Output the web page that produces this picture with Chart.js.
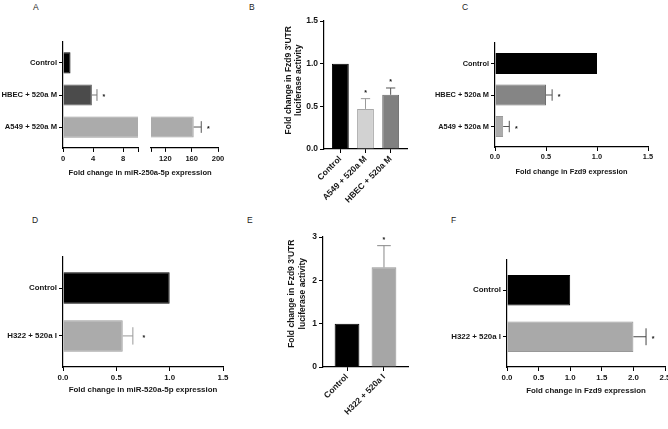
<!DOCTYPE html>
<html lang="en">
<head>
  <meta charset="UTF-8">
  <title>miR-520a / Fzd9 panels</title>
  <script src="https://cdn.jsdelivr.net/npm/chart.js"></script>
  <style>
    html, body { margin: 0; padding: 0; background: #fff; overflow: hidden; }
    body { width: 668px; height: 429px; position: relative; font-family: 'Liberation Sans', Arial, sans-serif; }
    canvas { position: absolute; }
    .tag { position: absolute; font-size: 8.5px; line-height: 10px; color: #222; }
  </style>
</head>
<body>
  <div class="tag" style="left:33px;top:2px">A</div>
  <div class="tag" style="left:249px;top:2px">B</div>
  <div class="tag" style="left:462px;top:2px">C</div>
  <div class="tag" style="left:32px;top:215px">D</div>
  <div class="tag" style="left:247px;top:215px">E</div>
  <div class="tag" style="left:451px;top:215px">F</div>

  <canvas id="chartA1" width="240" height="185" style="left:0;top:0"></canvas>
  <canvas id="chartA2" width="240" height="185" style="left:0;top:0"></canvas>
  <canvas id="chartB" width="180" height="210" style="left:240px;top:0"></canvas>
  <canvas id="chartC" width="248" height="185" style="left:420px;top:0"></canvas>
  <canvas id="chartD" width="240" height="210" style="left:0;top:200px"></canvas>
  <canvas id="chartE" width="180" height="229" style="left:240px;top:200px"></canvas>
  <canvas id="chartF" width="260" height="210" style="left:420px;top:200px"></canvas>

  <script>
    // A: miR-250a-5p (broken axis)
    const catsA = ['Control', 'HBEC + 520a M', 'A549 + 520a M'];
    const meanA = [1, 3.85, 163];
    const sdA = [0, 0.68, 11.5];
    const sigA = ['', '*', '*'];
    const ticksA = [0, 4, 8, 120, 160, 200];

    // B: luciferase
    const catsB = ['Control', 'A549 + 520a M', 'HBEC + 520a M'];
    const meanB = [1, 0.47, 0.635];
    const sdB = [0, 0.12, 0.08];
    const sigB = ['', '*', '*'];
    const ticksB = [0, 0.5, 1, 1.5];

    // C: Fzd9
    const catsC = ['Control', 'HBEC + 520a M', 'A549 + 520a M'];
    const meanC = [1, 0.5, 0.08];
    const sdC = [0, 0.06, 0.06];
    const sigC = ['', '*', '*'];
    const ticksC = [0, 0.5, 1, 1.5];

    // D: miR-520a-5p
    const catsD = ['Control', 'H322 + 520a I'];
    const meanD = [1, 0.56];
    const sdD = [0, 0.095];
    const sigD = ['', '*'];
    const ticksD = [0, 0.5, 1, 1.5];

    // E: luciferase
    const catsE = ['Control', 'H322 + 520a I'];
    const meanE = [1, 2.3];
    const sdE = [0, 0.5];
    const sigE = ['', '*'];
    const ticksE = [0, 1, 2, 3];

    // F: Fzd9
    const catsF = ['Control', 'H322 + 520a I'];
    const meanF = [1, 2.0];
    const sdF = [0, 0.2];
    const sigF = ['', '*'];
    const ticksF = [0, 0.5, 1, 1.5, 2, 2.5];

    const FONT = '"Liberation Sans", Arial, sans-serif';
    const INK = '#161616';
    const catGap = 0.65; // gap between axis end and outer bar, in category widths

    // prism-style spacing: push the outer bars away from the axis ends
    const catPad = {
      id: 'catPad',
      afterLayout(chart) {
        Object.values(chart.scales).forEach(s => {
          if (s.type !== 'category') return;
          s._startValue = s.min - catGap;
          s._valueRange = s.max - s.min + 2 * catGap;
        });
      }
    };

    // one-sided error bars + significance stars
    function errPlugin(sd, sig, colors, starGap) {
      return {
        id: 'errBars',
        afterDatasetsDraw(chart) {
          const ctx = chart.ctx;
          const horiz = chart.options.indexAxis === 'y';
          const vs = horiz ? chart.scales.x : chart.scales.y;
          const vals = chart.data.datasets[0].data;
          ctx.save();
          chart.getDatasetMeta(0).data.forEach((bar, i) => {
            const hi = vals[i] + sd[i];
            if (!sd[i] || vals[i] < vs.min || hi > vs.max) return;
            const end = vs.getPixelForValue(hi);
            const cap = (horiz ? bar.height : bar.width) * 0.55 / 2;
            ctx.strokeStyle = colors[i];
            ctx.lineWidth = 1;
            ctx.beginPath();
            if (horiz) {
              ctx.moveTo(bar.x, bar.y); ctx.lineTo(end, bar.y);
              ctx.moveTo(end, bar.y - cap); ctx.lineTo(end, bar.y + cap);
            } else {
              ctx.moveTo(bar.x, bar.y); ctx.lineTo(bar.x, end);
              ctx.moveTo(bar.x - cap, end); ctx.lineTo(bar.x + cap, end);
            }
            ctx.stroke();
            if (sig[i]) {
              ctx.fillStyle = INK;
              ctx.font = 'bold 7px ' + FONT;
              ctx.textAlign = 'center';
              ctx.textBaseline = 'alphabetic';
              if (horiz) ctx.fillText(sig[i], end + starGap, bar.y + 4);
              else ctx.fillText(sig[i], bar.x, end - 4);
            }
          });
          ctx.restore();
        }
      };
    }

    function hChart(id, o) {
      const f = { family: FONT, size: o.fs, weight: 'bold' };
      const hideY = o.yAxis === false;
      return new Chart(document.getElementById(id), {
        type: 'bar',
        data: {
          labels: o.cats,
          datasets: [{
            data: o.mean,
            backgroundColor: o.fill,
            borderColor: o.edge,
            borderWidth: 1,
            categoryPercentage: 1,
            barPercentage: 0.66
          }]
        },
        options: {
          indexAxis: 'y',
          responsive: false,
          animation: false,
          layout: { padding: o.pad },
          plugins: {
            legend: { display: false },
            tooltip: { enabled: false },
            title: o.chartTitle ? {
              display: true, position: 'bottom', align: 'end', text: o.chartTitle,
              font: f, color: INK, padding: { top: 0, bottom: o.titlePad }
            } : { display: false }
          },
          scales: {
            x: {
              min: o.min, max: o.max,
              border: { color: '#000', width: 1.2 },
              grid: { drawOnChartArea: false, tickLength: 4, color: '#000' },
              afterBuildTicks: s => { s.ticks = o.ticks.map(v => ({ value: v })); },
              ticks: { font: f, color: INK, padding: 2, maxRotation: 0, autoSkip: false, callback: o.fmt },
              title: {
                display: !!o.title, text: o.title,
                font: f, color: INK, padding: { top: 0, bottom: o.titlePad || 0 }
              },
              afterFit: s => { s.height = o.xh; }
            },
            y: {
              border: { display: !hideY, color: '#000', width: 1.2 },
              grid: { display: !hideY, drawOnChartArea: false, offset: false, tickLength: 4, color: '#000' },
              ticks: { display: !hideY, font: f, color: INK, padding: 2 },
              afterFit: s => { s.width = o.yw; }
            }
          }
        },
        plugins: [catPad, errPlugin(o.sd, o.sig, o.errColor, o.starGap || 7)]
      });
    }

    function vChart(id, o) {
      const f = { family: FONT, size: 8.5, weight: 'bold' };
      return new Chart(document.getElementById(id), {
        type: 'bar',
        data: {
          labels: o.cats,
          datasets: [{
            data: o.mean,
            backgroundColor: o.fill,
            borderColor: o.edge,
            borderWidth: 1,
            categoryPercentage: 1,
            barPercentage: 0.67
          }]
        },
        options: {
          responsive: false,
          animation: false,
          layout: { padding: o.pad },
          plugins: { legend: { display: false }, tooltip: { enabled: false } },
          scales: {
            x: {
              border: { color: '#000', width: 1.2 },
              grid: { drawOnChartArea: false, offset: false, tickLength: 4, color: '#000' },
              ticks: { font: f, color: INK, padding: 1, minRotation: 45, maxRotation: 45, autoSkip: false },
              afterFit: s => { s.height = o.xh; }
            },
            y: {
              min: o.min, max: o.max,
              border: { color: '#000', width: 1.2 },
              grid: { drawOnChartArea: false, tickLength: 4, color: '#000' },
              afterBuildTicks: s => { s.ticks = o.ticks.map(v => ({ value: v })); },
              ticks: { font: f, color: INK, padding: 2, callback: o.fmt },
              title: {
                display: true,
                text: o.title.map(t => o.lift + t),
                font: { family: FONT, size: 8.5, weight: 'bold', lineHeight: 1.25 },
                color: INK,
                padding: { top: o.titlePad, bottom: 0 }
              },
              afterFit: s => { s.width = o.yw; }
            }
          }
        },
        plugins: [catPad, errPlugin(o.sd, o.sig, o.errColor, 7)]
      });
    }

    const oneDec = v => Number(v).toFixed(1);
    const lucTitle = ['Fold change in Fzd9 3\'UTR', 'luciferase activity'];

    // A, left segment (0 - 10)
    hChart('chartA1', {
      cats: catsA, mean: meanA, sd: sdA, sig: sigA,
      fill: ['#000000', '#4b4b4b', '#ababab'], edge: ['#000000', '#5a5a5a', '#9a9a9a'],
      errColor: ['#000', '#777', '#555'],
      min: 0, max: 10, ticks: [...ticksA.filter(v => v <= 10), 10],
      fmt: v => ticksA.includes(v) ? String(v) : '',
      fs: 7.6, pad: { top: 42, right: 102, bottom: 0, left: 0 }, yw: 63, xh: 37
    });
    // A, right segment (98 - 200) carries the shared axis title
    hChart('chartA2', {
      cats: catsA, mean: meanA, sd: sdA, sig: sigA,
      fill: ['#000000', '#4b4b4b', '#ababab'], edge: ['#000000', '#5a5a5a', '#9a9a9a'],
      errColor: ['#000', '#777', '#555'],
      min: 98, max: 200, ticks: [98, ...ticksA.filter(v => v > 10)],
      fmt: v => ticksA.includes(v) ? String(v) : '',
      fs: 7.6, pad: { top: 42, right: 22, bottom: 0, left: 0 }, yw: 151, xh: 20.5, yAxis: false,
      chartTitle: 'Fold change in miR-250a-5p expression   ', titlePad: 7.5
    });

    vChart('chartB', {
      cats: catsB, mean: meanB, sd: sdB, sig: sigB,
      fill: ['#000000', '#d2d2d2', '#808080'], edge: ['#000000', '#a8a8a8', '#6a6a6a'],
      errColor: ['#000', '#999', '#555'],
      min: 0, max: 1.5, ticks: ticksB, fmt: oneDec,
      pad: { top: 21, right: 13, bottom: 0, left: 0 }, yw: 84, xh: 61,
      title: lucTitle, lift: '    ', titlePad: 43
    });

    hChart('chartC', {
      cats: catsC, mean: meanC, sd: sdC, sig: sigC,
      fill: ['#000000', '#858585', '#ababab'], edge: ['#000000', '#707070', '#999999'],
      errColor: ['#000', '#555', '#555'],
      min: 0, max: 1.5, ticks: ticksC, fmt: oneDec,
      fs: 7.4, pad: { top: 43, right: 20, bottom: 0, left: 0 }, yw: 75, xh: 38,
      title: 'Fold change in Fzd9 expression', titlePad: 8.5
    });

    hChart('chartD', {
      cats: catsD, mean: meanD, sd: sdD, sig: sigD,
      fill: ['#000000', '#ababab'], edge: ['#000000', '#9a9a9a'],
      errColor: ['#000', '#999'], starGap: 11,
      min: 0, max: 1.5, ticks: ticksD, fmt: oneDec,
      fs: 7.9, pad: { top: 57, right: 17, bottom: 0, left: 0 }, yw: 63, xh: 43,
      title: 'Fold change in miR-520a-5p expression', titlePad: 15.5
    });

    vChart('chartE', {
      cats: catsE, mean: meanE, sd: sdE, sig: sigE,
      fill: ['#000000', '#a6a6a6'], edge: ['#000000', '#959595'],
      errColor: ['#000', '#888'],
      min: 0, max: 3, ticks: ticksE, fmt: v => String(v),
      pad: { top: 37, right: 12, bottom: 0, left: 0 }, yw: 83, xh: 62,
      title: lucTitle, lift: '       ', titlePad: 46.5
    });

    hChart('chartF', {
      cats: catsF, mean: meanF, sd: sdF, sig: sigF,
      fill: ['#000000', '#a9a9a9'], edge: ['#000000', '#989898'],
      errColor: ['#000', '#444'],
      min: 0, max: 2.5, ticks: ticksF, fmt: oneDec,
      fs: 7.9, pad: { top: 60, right: 15, bottom: 0, left: 0 }, yw: 87, xh: 43,
      title: 'Fold change in Fzd9 expression', titlePad: 14.5
    });
  </script>
</body>
</html>
